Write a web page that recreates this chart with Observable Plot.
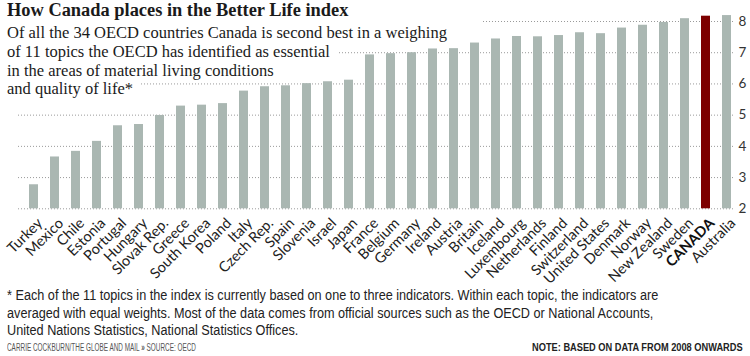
<!DOCTYPE html>
<html>
<head>
<meta charset="utf-8">
<script src="https://cdn.jsdelivr.net/npm/d3@7"></script>
<script src="https://cdn.jsdelivr.net/npm/@observablehq/plot@0.6"></script>
<style>
  body { margin: 0; background: #fff; }
  #wrap { position: relative; width: 750px; height: 356px; overflow: hidden; background: #fff; }
  #chart { position: absolute; left: 0; top: 0; }
  .serif { font-family: "Liberation Serif", "Times New Roman", serif; color: #1a1a1a; white-space: nowrap; }
  .ln { position: absolute; left: 0; }
  .ln span { background: #fff; display: inline-block; padding-left: 7px; padding-right: 8px; }
  #title { top: 0px; font-size: 18.4px; font-weight: bold; line-height: 20px; }
  .sub { font-size: 16.5px; line-height: 19px; }
  #foot { position: absolute; left: 7px; top: 287px; font-family: "Liberation Sans", Arial, sans-serif; font-size: 14px; line-height: 17.5px; color: #222; white-space: nowrap; transform: scaleX(0.905); transform-origin: left top; }
  #credit { position: absolute; left: 7px; top: 342px; font-family: "Liberation Sans", Arial, sans-serif; font-size: 10px; color: #555; white-space: nowrap; transform: scaleX(0.64); transform-origin: left top; }
  #note { position: absolute; right: 7px; top: 342px; font-family: "Liberation Sans", Arial, sans-serif; font-size: 10px; font-weight: bold; color: #222; white-space: nowrap; transform: scaleX(0.925); transform-origin: right top; }
</style>
</head>
<body>
<div id="wrap">
  <div id="chart"></div>
  <div class="ln serif" id="title"><span>How Canada places in the Better Life index</span></div>
  <div class="ln serif sub" style="top:20px"><span style="padding-top:3px;padding-right:34px">Of all the 34 OECD countries Canada is second best in a weighing</span></div>
  <div class="ln serif sub" style="top:42px"><span>of 11 topics the OECD has identified as essential</span></div>
  <div class="ln serif sub" style="top:60.5px"><span>in the areas of material living conditions</span></div>
  <div class="ln serif sub" style="top:78.5px"><span>and quality of life*</span></div>
  <div id="foot">* Each of the 11 topics in the index is currently based on one to three indicators. Within each topic, the indicators are<br>averaged with equal weights. Most of the data comes from official sources such as the OECD or National Accounts,<br>United Nations Statistics, National Statistics Offices.</div>
  <div id="credit">CARRIE COCKBURN/THE GLOBE AND MAIL <b>»</b> SOURCE: OECD</div>
  <div id="note">NOTE: BASED ON DATA FROM 2008 ONWARDS</div>
</div>
<script>
const countries = ["Turkey","Mexico","Chile","Estonia","Portugal","Hungary","Slovak Rep.","Greece","South Korea","Poland","Italy","Czech Rep.","Spain","Slovenia","Israel","Japan","France","Belgium","Germany","Ireland","Austria","Britain","Iceland","Luxembourg","Netherlands","Finland","Switzerland","United States","Denmark","Norway","New Zealand","Sweden","CANADA","Australia"];
const values = [2.77,3.66,3.84,4.16,4.66,4.70,4.99,5.29,5.32,5.37,5.77,5.91,5.94,6.01,6.07,6.12,6.93,6.97,7.00,7.12,7.13,7.31,7.44,7.52,7.51,7.55,7.64,7.61,7.79,7.88,7.97,8.09,8.17,8.19];
const yTicks = [2,3,4,5,6,7,8];
const highlight = "CANADA";

const data = countries.map((c, i) => ({country: c, value: values[i]}));
const others = data.filter(d => d.country !== highlight);
const hl = data.filter(d => d.country === highlight);

const labelFont = "Lato, 'Open Sans', sans-serif";

const chart = Plot.plot({
  width: 750,
  height: 294,
  marginTop: 21,
  marginBottom: 85.7,
  marginLeft: 12,
  marginRight: 2.4,
  style: {fontFamily: labelFont, background: "transparent", overflow: "visible"},
  x: {domain: countries, padding: 0.57, axis: null},
  y: {domain: [2, 8], axis: null},
  marks: [
    Plot.ruleY(yTicks, {stroke: "#9a9a9a", strokeDasharray: "1,2", insetLeft: 6, insetRight: 14}),
    Plot.barY(others, {x: "country", y1: 2, y2: "value", fill: "#aab7b2"}),
    Plot.barY(hl, {x: "country", y1: 2, y2: "value", fill: "#7d0000"}),
    Plot.text(yTicks, {y: d => d, text: d => String(d), frameAnchor: "right", textAnchor: "start", dx: -9.6, fontSize: 13.5, fontFamily: labelFont, fill: "#333"}),
    Plot.text(others, {x: "country", y: 2, text: "country", rotate: -45, textAnchor: "end", dx: 6, dy: 12, fontSize: 14.5, fontFamily: labelFont, fill: "#222"}),
    Plot.text(hl, {x: "country", y: 2, text: "country", rotate: -45, textAnchor: "end", dx: 6, dy: 12, fontSize: 14.5, fontFamily: labelFont, fontWeight: "bold", fill: "#111"})
  ]
});
document.getElementById("chart").appendChild(chart);
</script>
</body>
</html>
